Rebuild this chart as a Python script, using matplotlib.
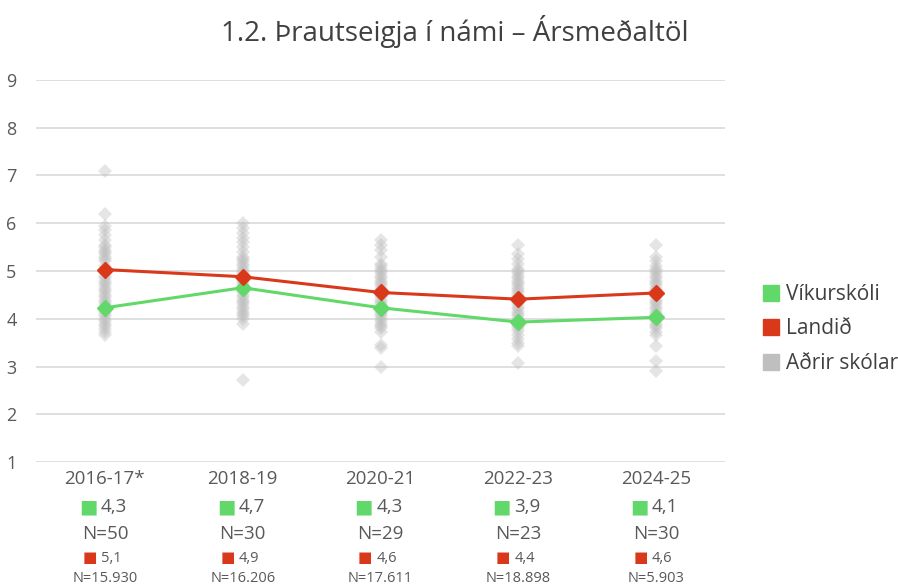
import matplotlib
matplotlib.use('Agg')
import matplotlib.pyplot as plt
from matplotlib.lines import Line2D

plt.rcParams['font.family'] = ['Open Sans', 'DejaVu Sans']

years = ['2016-17*', '2018-19', '2020-21', '2022-23', '2024-25']
vikurskoli = [4.23, 4.65, 4.23, 3.93, 4.03]
landid = [5.03, 4.88, 4.55, 4.41, 4.54]
vik_labels = ['4,3', '4,7', '4,3', '3,9', '4,1']
vik_n = ['N=50', 'N=30', 'N=29', 'N=23', 'N=30']
land_labels = ['5,1', '4,9', '4,6', '4,4', '4,6']
land_n = ['N=15.930', 'N=16.206', 'N=17.611', 'N=18.898', 'N=5.903']

# aðrir skólar - lesið af myndinni
others = [
    [7.1, 6.2, 5.95, 5.85, 5.75, 5.65, 5.55, 5.5, 5.45, 5.4, 5.35, 5.3, 5.25, 5.2, 5.1,
     5.05, 5.0, 4.95, 4.9, 4.85, 4.8, 4.75, 4.7, 4.65, 4.6, 4.55, 4.5, 4.45, 4.4, 4.35,
     4.3, 4.2, 4.15, 4.1, 4.05, 4.0, 3.95, 3.9, 3.85, 3.78, 3.72, 3.65],
    [6.0, 5.9, 5.8, 5.7, 5.6, 5.5, 5.4, 5.3, 5.25, 5.2, 5.15, 5.1, 5.05, 5.0, 4.95, 4.9,
     4.85, 4.8, 4.75, 4.7, 4.65, 4.6, 4.55, 4.5, 4.45, 4.4, 4.35, 4.3, 4.25, 4.2, 4.15,
     4.1, 4.05, 4.0, 3.9, 2.72],
    [5.65, 5.55, 5.45, 5.3, 5.15, 5.1, 5.05, 5.0, 4.95, 4.9, 4.85, 4.8, 4.75, 4.7, 4.65,
     4.6, 4.55, 4.5, 4.45, 4.4, 4.35, 4.3, 4.25, 4.2, 4.15, 4.1, 4.05, 4.0, 3.95, 3.9,
     3.85, 3.8, 3.72, 3.45, 3.38, 2.98],
    [5.54, 5.35, 5.25, 5.15, 5.05, 5.0, 4.95, 4.9, 4.85, 4.8, 4.75, 4.7, 4.65, 4.6, 4.55,
     4.5, 4.45, 4.4, 4.35, 4.3, 4.25, 4.2, 4.15, 4.1, 4.05, 4.0, 3.95, 3.9, 3.85, 3.8,
     3.75, 3.65, 3.58, 3.5, 3.42, 3.07],
    [5.54, 5.3, 5.2, 5.1, 5.05, 5.0, 4.95, 4.9, 4.85, 4.8, 4.75, 4.7, 4.65, 4.6, 4.55,
     4.5, 4.45, 4.4, 4.35, 4.3, 4.25, 4.2, 4.15, 4.1, 4.05, 4.0, 3.95, 3.9, 3.85, 3.8,
     3.72, 3.65, 3.42, 3.12, 2.9],
]

green = '#63d86a'
red = '#d9391a'
gray = '#bfbfbf'
txt = '#595959'

fig = plt.figure(figsize=(8.98, 5.88), dpi=100)
ax = fig.add_axes([36 / 898, 126 / 588, 689 / 898, 382 / 588])

for i, vals in enumerate(others):
    ax.plot([i] * len(vals), vals, linestyle='none', marker='D', markersize=7,
            color=gray, alpha=0.4, markeredgewidth=0)

ax.plot(range(len(years)), vikurskoli, color=green, lw=2.2, marker='D', markersize=8, zorder=3)
ax.plot(range(len(years)), landid, color=red, lw=2.2, marker='D', markersize=8, zorder=4)

ax.set_xlim(-0.5, len(years) - 0.5)
ax.set_ylim(1, 9)
ax.set_yticks(range(1, 10))
ax.grid(axis='y', color='#d9d9d9', lw=1.2)
ax.set_axisbelow(True)
for s in ax.spines.values():
    s.set_visible(False)
ax.tick_params(axis='y', length=0, labelsize=13, labelcolor=txt, pad=14)
ax.set_xticks([])

tr = ax.get_xaxis_transform()
for i, y in enumerate(years):
    ax.annotate(y, (i, 0), xycoords=tr, xytext=(0, -12), textcoords='offset points',
                ha='center', va='center', fontsize=13.5, color=txt)
    ax.annotate('■', (i, 0), xycoords=tr, xytext=(-12, -32.5), textcoords='offset points',
                ha='center', va='center', fontsize=14, color=green)
    ax.annotate(vik_labels[i], (i, 0), xycoords=tr, xytext=(-3, -32.5), textcoords='offset points',
                ha='left', va='center', fontsize=13.5, color=txt)
    ax.annotate(vik_n[i], (i, 0), xycoords=tr, xytext=(0, -51.5), textcoords='offset points',
                ha='center', va='center', fontsize=13.5, color=txt)
    ax.annotate('■', (i, 0), xycoords=tr, xytext=(-11, -69.5), textcoords='offset points',
                ha='center', va='center', fontsize=11, color=red)
    ax.annotate(land_labels[i], (i, 0), xycoords=tr, xytext=(-3, -69.5), textcoords='offset points',
                ha='left', va='center', fontsize=10.5, color=txt)
    ax.annotate(land_n[i], (i, 0), xycoords=tr, xytext=(0, -84), textcoords='offset points',
                ha='center', va='center', fontsize=10.5, color=txt)

fig.text(455 / 898, 1 - 31 / 588, '1.2. Þrautseigja í námi – Ársmeðaltöl',
         ha='center', va='center', fontsize=20, color='#404040')

handles = [Line2D([], [], linestyle='none', marker='s', markersize=12, color=c)
           for c in (green, red, gray)]
fig.legend(handles, ['Víkurskóli', 'Landið', 'Aðrir skólar'], loc='center left',
           bbox_to_anchor=(744 / 898, 1 - 329 / 588), frameon=False, fontsize=15,
           labelcolor='#404040', handlelength=0.8, handletextpad=0.3, labelspacing=0.65)

fig.savefig('out.png', dpi=100)
